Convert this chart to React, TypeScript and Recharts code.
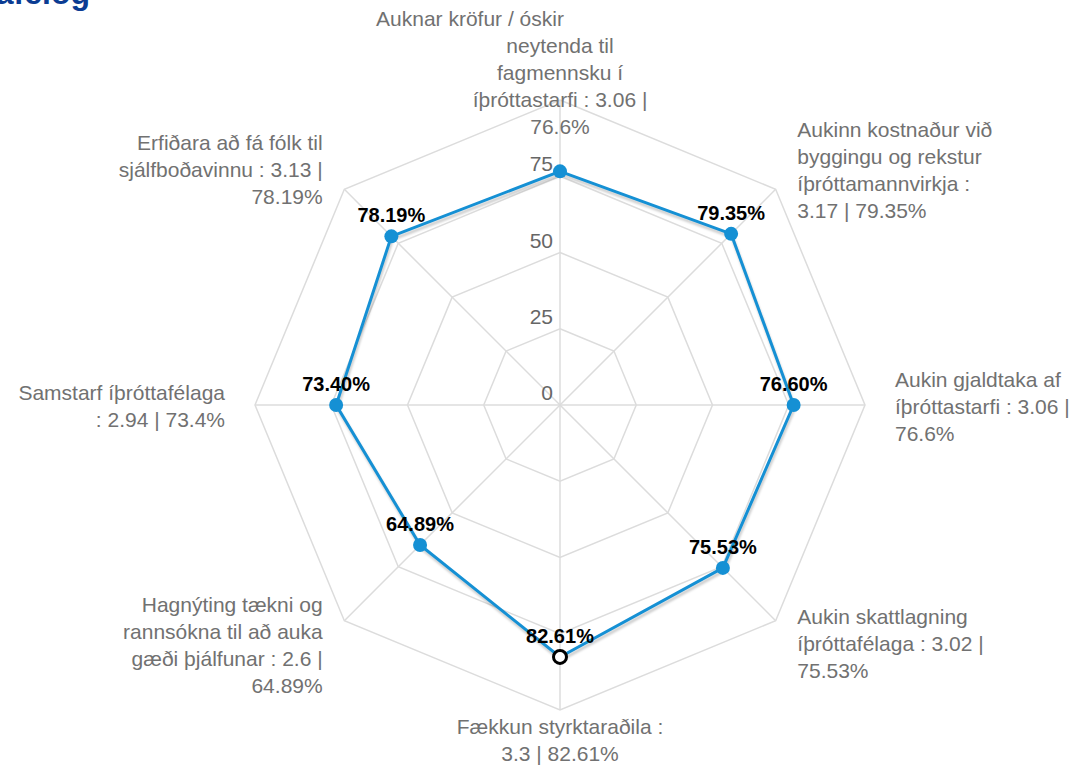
import React from "react";
import {
  RadarChart,
  Radar,
  PolarGrid,
  PolarAngleAxis,
  PolarRadiusAxis,
} from "recharts";

const categories = [
  "Auknar kröfur / óskir neytenda til fagmennsku í íþróttastarfi",
  "Aukinn kostnaður við byggingu og rekstur íþróttamannvirkja",
  "Aukin gjaldtaka af íþróttastarfi",
  "Aukin skattlagning íþróttafélaga",
  "Fækkun styrktaraðila",
  "Hagnýting tækni og rannsókna til að auka gæði þjálfunar",
  "Samstarf íþróttafélaga",
  "Erfiðara að fá fólk til sjálfboðavinnu",
];
const scores = [3.06, 3.17, 3.06, 3.02, 3.3, 2.6, 2.94, 3.13];
const percents = [76.6, 79.35, 76.6, 75.53, 82.61, 64.89, 73.4, 78.19];
const radiusTicks = [0, 25, 50, 75, 100];

// wrapped axis labels, as in the original
const labelLines = [
  ["Auknar kröfur / óskir", "neytenda til", "fagmennsku í", "íþróttastarfi : 3.06 |", "76.6%"],
  ["Aukinn kostnaður við", "byggingu og rekstur", "íþróttamannvirkja :", "3.17 | 79.35%"],
  ["Aukin gjaldtaka af", "íþróttastarfi : 3.06 |", "76.6%"],
  ["Aukin skattlagning", "íþróttafélaga : 3.02 |", "75.53%"],
  ["Fækkun styrktaraðila :", "3.3 | 82.61%"],
  ["Hagnýting tækni og", "rannsókna til að auka", "gæði þjálfunar : 2.6 |", "64.89%"],
  ["Samstarf íþróttafélaga", ": 2.94 | 73.4%"],
  ["Erfiðara að fá fólk til", "sjálfboðavinnu : 3.13 |", "78.19%"],
];

const labelPlace = [
  { anchor: "middle", dx: 0, dy: -66 },
  { anchor: "start", dx: 16, dy: -47 },
  { anchor: "start", dx: 22, dy: -18 },
  { anchor: "start", dx: 16, dy: -2 },
  { anchor: "middle", dx: 0, dy: 16 },
  { anchor: "end", dx: -16, dy: -14 },
  { anchor: "end", dx: -22, dy: -5 },
  { anchor: "end", dx: -16, dy: -34 },
];

const data = categories.map((name, i) => ({
  name,
  score: scores[i],
  pct: percents[i],
}));

const font = "'Liberation Sans', Arial, sans-serif";
const blue = "#1590d4";

function AngleTick(props: any) {
  const { x, y, index } = props;
  const lines = labelLines[index] || [];
  const p = labelPlace[index];
  return (
    <text
      x={x + p.dx}
      y={y + p.dy}
      textAnchor={p.anchor}
      fill="#717171"
      fontSize={21}
      fontFamily={font}
    >
      {lines.map((l, i) => (
        <tspan
          key={i}
          x={x + p.dx + (index === 0 && i === 0 ? -90 : 0)}
          dy={i === 0 ? 0 : 27}
        >
          {l}
        </tspan>
      ))}
    </text>
  );
}

function RadiusTick(props: any) {
  const { x, y, payload } = props;
  if (payload.value === 100) return null;
  return (
    <text
      x={x - 7}
      y={y - 5}
      textAnchor="end"
      fill="#666"
      fontSize={21}
      fontFamily={font}
    >
      {payload.value}
    </text>
  );
}

function Dot(props: any) {
  const { cx, cy, index } = props;
  if (index === 4) {
    return (
      <circle cx={cx} cy={cy} r={6.5} fill="#fff" stroke="#000" strokeWidth={3} />
    );
  }
  return <circle cx={cx} cy={cy} r={7} fill={blue} stroke="none" />;
}

function ValueLabel(props: any) {
  const { x, y, index, value } = props;
  if (index === 0) return null;
  return (
    <text
      x={x}
      y={y - 14}
      textAnchor="middle"
      fill="#000"
      fontSize={20}
      fontWeight="bold"
      fontFamily={font}
    >
      {Number(value).toFixed(2)}%
    </text>
  );
}

export default function App() {
  return (
    <div
      style={{
        position: "fixed",
        left: 0,
        top: 0,
        width: 1080,
        height: 767,
        background: "#fff",
        overflow: "hidden",
      }}
    >
      <style>{`.shadowed .recharts-radar-polygon path { filter: drop-shadow(1px 3px 1px rgba(0,0,0,0.2)); }`}</style>
      <div
        style={{
          position: "absolute",
          left: -210,
          top: -23,
          width: 300,
          textAlign: "right",
          fontFamily: font,
          fontWeight: "bold",
          fontSize: 32,
          lineHeight: "32px",
          color: "#0b3c93",
        }}
      >
        Íþróttafélög
      </div>
      <RadarChart
        width={1080}
        height={767}
        data={data}
        cx={560}
        cy={405}
        outerRadius={305}
        startAngle={90}
        endAngle={-270}
        style={{ position: "absolute", left: 0, top: 0 }}
      >
        <PolarGrid stroke="#dcdcdc" strokeWidth={1.5} gridType="polygon" />
        <PolarAngleAxis
          dataKey="name"
          tick={<AngleTick />}
          tickLine={false}
          axisLine={false}
        />
        <PolarRadiusAxis
          angle={90}
          domain={[0, 100]}
          ticks={radiusTicks}
          tick={<RadiusTick />}
          axisLine={false}
          tickLine={false}
        />
        <Radar
          className="shadowed"
          dataKey="pct"
          stroke={blue}
          strokeWidth={3}
          fill="none"
          fillOpacity={0}
          dot={<Dot />}
          label={<ValueLabel />}
          isAnimationActive={false}
        />
      </RadarChart>
    </div>
  );
}
